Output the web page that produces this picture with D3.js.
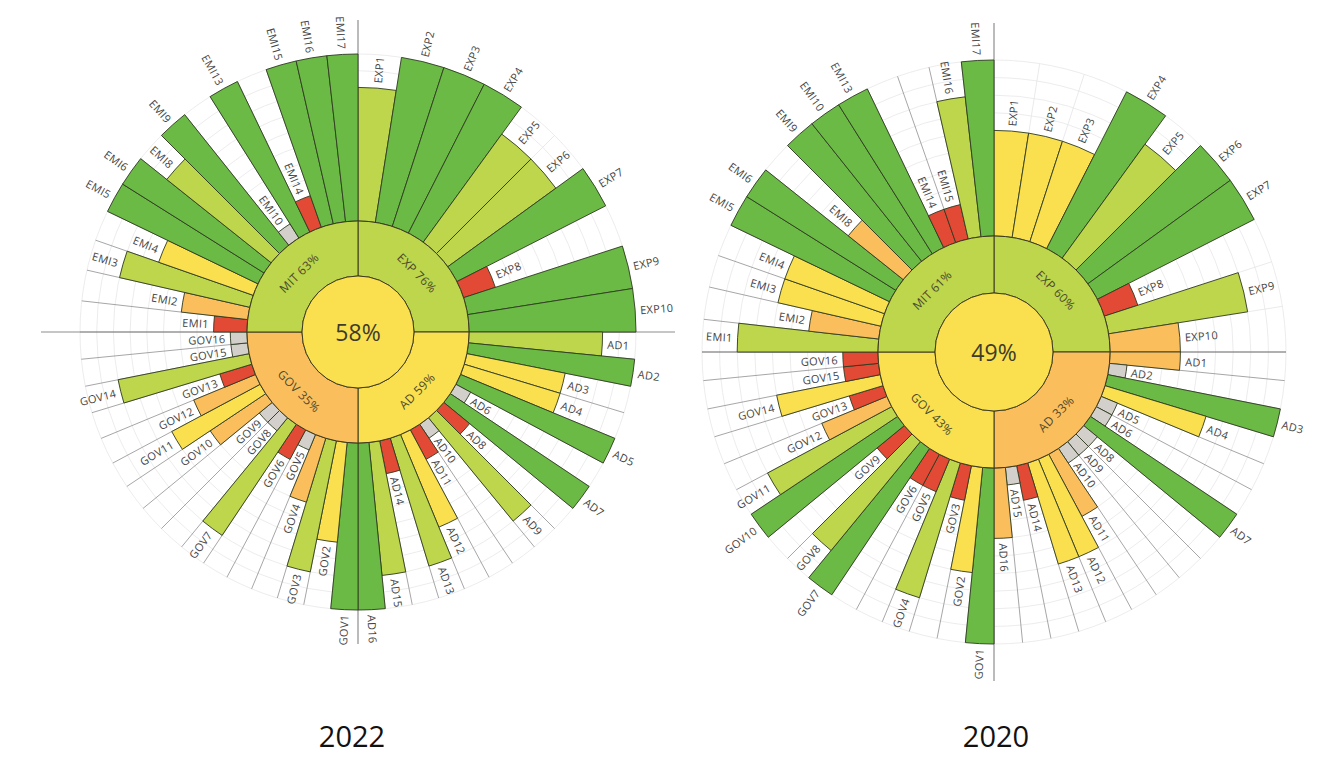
<!DOCTYPE html>
<html>
<head>
<meta charset="utf-8">
<script src="https://cdn.jsdelivr.net/npm/d3@7"></script>
<style>
  body { margin: 0; background: #fff; }
  text { font-family: "Open Sans", sans-serif; }
</style>
</head>
<body>
<script>
// indicator codes per pillar (EMI7, EMI11, EMI12 do not exist)
const expCodes = ["EXP1", "EXP2", "EXP3", "EXP4", "EXP5", "EXP6", "EXP7", "EXP8", "EXP9", "EXP10"];
const adCodes = ["AD1", "AD2", "AD3", "AD4", "AD5", "AD6", "AD7", "AD8", "AD9", "AD10", "AD11", "AD12", "AD13", "AD14", "AD15", "AD16"];
const govCodes = ["GOV1", "GOV2", "GOV3", "GOV4", "GOV5", "GOV6", "GOV7", "GOV8", "GOV9", "GOV10", "GOV11", "GOV12", "GOV13", "GOV14", "GOV15", "GOV16"];
const emiCodes = ["EMI1", "EMI2", "EMI3", "EMI4", "EMI5", "EMI6", "EMI8", "EMI9", "EMI10", "EMI13", "EMI14", "EMI15", "EMI16", "EMI17"];
const pillarNames = ["EXP", "AD", "GOV", "MIT"];

// indicator scores (%), null = not assessed
const exp2022 = [80, 100, 100, 100, 80, 80, 100, 20, 100, 100];
const ad2022 = [80, 100, 60, 60, 100, null, 100, 20, 80, null, 20, 60, 80, 20, 80, 100];
const gov2022 = [100, 60, 80, 40, null, 20, 80, null, null, 40, 60, 40, 20, 80, null, null];
const emi2022 = [20, 40, 80, 60, 100, 100, 80, 100, null, 100, 20, 100, 100, 100];
const pillars2022 = [76, 59, 35, 63];
const total2022 = 58;

const exp2020 = [60, 60, 60, 100, 80, 100, 100, 20, 80, 40];
const ad2020 = [40, null, 100, 60, null, null, 100, null, null, null, 40, 60, 60, 20, null, 40];
const gov2020 = [100, 60, 20, 80, 20, 20, 100, 80, 20, 100, 80, 40, 20, 60, 20, 20];
const emi2020 = [80, 40, 60, 60, 100, 100, 40, 100, 100, 100, 20, 20, 80, 100];
const pillars2020 = [60, 33, 43, 61];
const total2020 = 49;

const naValue = 10;

const RED = "#e34a36", ORANGE = "#fbbe5d", YELLOW = "#fae04e", LGREEN = "#bdd64b", GREEN = "#6cba46", GRAY = "#d3d0cb";
const barColor = d3.scaleThreshold().domain([30, 50, 70, 90]).range([RED, ORANGE, YELLOW, LGREEN, GREEN]);
const ringColor = d3.scaleThreshold().domain([20, 40, 60, 80]).range([RED, ORANGE, YELLOW, LGREEN, GREEN]);

const svg = d3.select("body").append("svg")
    .attr("width", 1343)
    .attr("height", 761);

const codeGroups = [expCodes, adCodes, govCodes, emiCodes];

function drawChart(cfg) {
    const g = svg.append("g").attr("transform", "translate(" + cfg.cx + "," + cfg.cy + ")");
    const rScale = d3.scaleLinear().domain([0, 100]).range([cfg.r1, cfg.R]);

    // one slot per indicator, each pillar fills a quarter
    const slots = [];
    codeGroups.forEach(function (codes, q) {
        const band = d3.scaleBand().domain(codes).range([q * Math.PI / 2, (q + 1) * Math.PI / 2]);
        codes.forEach(function (code, i) {
            const v = cfg.values[q][i];
            slots.push({ code: code, q: q, a0: band(code), a1: band(code) + band.bandwidth(), v: v });
        });
    });

    // grid rings
    g.selectAll("circle.grid")
        .data(d3.range(10, 101, 10))
        .join("circle")
        .attr("class", "grid")
        .attr("r", d => rScale(d))
        .attr("fill", "none")
        .attr("stroke", "#e7e7e7")
        .attr("stroke-width", 0.8);

    // slot separators
    g.selectAll("line.sep")
        .data(slots)
        .join("line")
        .attr("class", "sep")
        .attr("x1", d => cfg.r1 * Math.sin(d.a0))
        .attr("y1", d => -cfg.r1 * Math.cos(d.a0))
        .attr("x2", d => cfg.R * Math.sin(d.a0))
        .attr("y2", d => -cfg.R * Math.cos(d.a0))
        .attr("stroke", d => d.q === 0 ? "#e4e4e4" : "#6a6a6a")
        .attr("stroke-width", d => d.q === 0 ? 0.8 : 0.6);

    // cross axes
    g.append("line")
        .attr("x1", -cfg.hLen).attr("x2", cfg.hLen).attr("y1", 0).attr("y2", 0)
        .attr("stroke", "#8e8e8e").attr("stroke-width", 1.2);
    g.append("line")
        .attr("x1", 0).attr("x2", 0).attr("y1", -cfg.vLen).attr("y2", cfg.vLen)
        .attr("stroke", "#8e8e8e").attr("stroke-width", 1.2);

    // indicator bars
    const barArc = d3.arc()
        .innerRadius(cfg.r1)
        .outerRadius(d => rScale(d.v === null ? naValue : d.v))
        .startAngle(d => d.a0)
        .endAngle(d => d.a1);

    g.selectAll("path.bar")
        .data(slots)
        .join("path")
        .attr("class", "bar")
        .attr("d", barArc)
        .attr("fill", d => d.v === null ? GRAY : barColor(d.v))
        .attr("stroke", "#2f3b20")
        .attr("stroke-width", 0.9);

    // labels just past the bar end
    g.selectAll("text.lbl")
        .data(slots)
        .join("text")
        .attr("class", "lbl")
        .attr("transform", function (d) {
            const m = (d.a0 + d.a1) / 2;
            const r = rScale(d.v === null ? naValue : d.v) + 5;
            const deg = m * 180 / Math.PI;
            const rot = deg < 180 ? deg - 90 : deg + 90;
            return "translate(" + (r * Math.sin(m)) + "," + (-r * Math.cos(m)) + ")rotate(" + rot + ")";
        })
        .attr("text-anchor", d => ((d.a0 + d.a1) / 2) < Math.PI ? "start" : "end")
        .attr("dominant-baseline", "central")
        .attr("font-size", 11)
        .attr("letter-spacing", 0.3)
        .attr("fill", "#444")
        .text(d => d.code);

    // pillar ring
    const ringArc = d3.arc().innerRadius(cfg.r0).outerRadius(cfg.r1);
    const ringData = cfg.pillars.map(function (p, q) {
        return { name: pillarNames[q], p: p, startAngle: q * Math.PI / 2, endAngle: (q + 1) * Math.PI / 2 };
    });
    g.selectAll("path.ring")
        .data(ringData)
        .join("path")
        .attr("class", "ring")
        .attr("d", ringArc)
        .attr("fill", d => ringColor(d.p))
        .attr("stroke", "#3d3a1f")
        .attr("stroke-width", 1);

    g.selectAll("text.ringlbl")
        .data(ringData)
        .join("text")
        .attr("class", "ringlbl")
        .attr("transform", function (d) {
            const m = (d.startAngle + d.endAngle) / 2;
            const r = (cfg.r0 + cfg.r1) / 2;
            let deg = m * 180 / Math.PI;
            if (deg > 270) deg -= 360;
            else if (deg > 90) deg -= 180;
            return "translate(" + (r * Math.sin(m)) + "," + (-r * Math.cos(m)) + ")rotate(" + deg + ")";
        })
        .attr("text-anchor", "middle")
        .attr("dominant-baseline", "central")
        .attr("font-size", 12)
        .attr("letter-spacing", 0.3)
        .attr("fill", "#4b4a2e")
        .text(d => d.name + " " + d.p + "%");

    // overall score
    g.append("circle")
        .attr("r", cfg.r0)
        .attr("fill", ringColor(cfg.total))
        .attr("stroke", "#3d3a1f")
        .attr("stroke-width", 1);
    g.append("text")
        .attr("text-anchor", "middle")
        .attr("dominant-baseline", "central")
        .attr("font-size", 23)
        .attr("fill", "#3d3c2c")
        .text(cfg.total + "%");

    // year caption
    svg.append("text")
        .attr("x", cfg.labelX)
        .attr("y", 747)
        .attr("text-anchor", "middle")
        .attr("font-size", 29)
        .attr("fill", "#111")
        .text(cfg.year);
}

drawChart({
    year: "2022", values: [exp2022, ad2022, gov2022, emi2022], pillars: pillars2022, total: total2022,
    cx: 358, cy: 332, r0: 56, r1: 111, R: 278, hLen: 317, vLen: 312, labelX: 352
});
drawChart({
    year: "2020", values: [exp2020, ad2020, gov2020, emi2020], pillars: pillars2020, total: total2020,
    cx: 994, cy: 352, r0: 59, r1: 116, R: 292, hLen: 292, vLen: 329, labelX: 996
});
</script>
</body>
</html>
